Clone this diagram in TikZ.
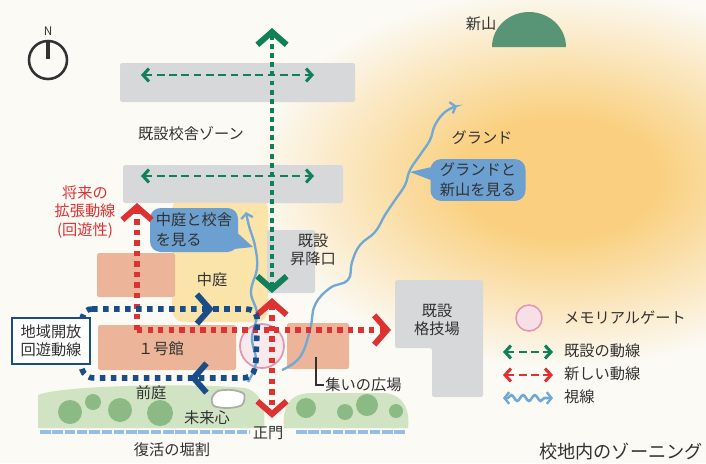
\documentclass[tikz,border=0pt]{standalone}
\usepackage{fontspec}
\setmainfont{Noto Sans CJK JP}
\usetikzlibrary{arrows.meta,decorations.markings,decorations.pathmorphing}

\definecolor{paper}{RGB}{251,250,245}
\definecolor{ink}{RGB}{50,50,50}
\definecolor{bldgray}{RGB}{214,216,217}
\definecolor{bldorange}{RGB}{236,180,152}
\definecolor{flowgreen}{RGB}{16,128,88}
\definecolor{flowred}{RGB}{222,50,50}
\definecolor{flowblue}{RGB}{26,76,136}
\definecolor{sightblue}{RGB}{112,168,214}
\definecolor{bubble}{RGB}{108,160,208}
\definecolor{glow}{RGB}{250,208,128}
\definecolor{courtyard}{RGB}{250,228,170}
\definecolor{hill}{RGB}{88,148,118}
\definecolor{lawn}{RGB}{208,228,196}
\definecolor{tree}{RGB}{140,186,132}
\definecolor{gatepink}{RGB}{226,150,175}
\definecolor{moat}{RGB}{150,190,228}

% glow of the ground
\pgfdeclareradialshading{groundglow}{\pgfpoint{0bp}{0bp}}{%
  color(0bp)=(glow); color(8bp)=(glow); color(25bp)=(paper); color(50bp)=(paper)}

\tikzset{
  building/.style={fill=bldgray, rounded corners=2pt},
  hall/.style={fill=bldorange, rounded corners=2pt},
  oldflow/.style={flowgreen, line width=4.2pt, dash pattern=on 4.2pt off 3.6pt},
  oldlane/.style={flowgreen, line width=2.4pt, dash pattern=on 6.5pt off 4pt},
  newflow/.style={flowred, line width=4.6pt, dash pattern=on 4.6pt off 4.4pt},
  newlane/.style={flowred, line width=2.4pt, dash pattern=on 6.5pt off 4pt},
  openloop/.style={flowblue, line width=4.8pt, dash pattern=on 4.8pt off 4.6pt},
  sight/.style={sightblue, line width=2pt},
  bubblebox/.style={fill=bubble, rounded corners=9pt, text=ink,
    font=\fontsize{13}{17}\selectfont},
  bigchev/.tip={Straight Barb[sharp, length=11pt, width=25pt, line width=5pt]},
  smallchev/.tip={Straight Barb[sharp, length=5pt, width=11pt, line width=2.6pt]},
  sightchev/.tip={Straight Barb[length=4pt, width=10pt, line width=2pt]},
}

\begin{document}
\begin{tikzpicture}[x=0.03cm, y=-0.03cm, text=ink,
    font=\fontsize{13}{16}\selectfont]
  \useasboundingbox[fill=paper] (0,0) rectangle (706,463);

  % ground
  \shade[shading=groundglow] (560,178) ellipse (310 and 190);
  % courtyard
  \fill[courtyard, rounded corners=10pt] (172,198) rectangle (268,322);

  % existing buildings
  \fill[building] (120,63) rectangle (355,102);
  \fill[building] (123,165) rectangle (343,203);
  \fill[building] (267,230) rectangle (315,293);
  \fill[building] (395,280) -- (483,280) -- (483,397) -- (432,397)
    -- (432,348) -- (395,348) -- cycle;

  % new buildings
  \fill[hall] (97,253) rectangle (175,297);
  \fill[hall] (98,325) rectangle (236,370);
  \fill[hall] (287,323) rectangle (349,369);

  % lawns and trees
  \fill[lawn] (38,428) -- (38,395) .. controls (60,385) and (200,383) .. (245,388)
    .. controls (262,392) and (266,410) .. (264,428) -- cycle;
  \fill[lawn] (284,428) .. controls (282,405) and (290,394) .. (310,393)
    -- (385,393) .. controls (405,395) and (410,412) .. (408,428) -- cycle;
  \foreach \x/\y/\r in {70/412/12, 93/402/8, 120/410/12, 160/413/13,
      306/408/10, 345/412/8, 367/405/11, 396/411/7}
    \fill[tree] (\x,\y) circle (\r);

  % pond
  \draw[gray!65, line width=1.5pt, fill=white] plot[smooth cycle] coordinates
    {(212,398) (218,391) (232,390) (244,394) (242,405) (228,408) (214,406)};

  % moat
  \draw[moat, line width=2.6pt, dash pattern=on 9pt off 1.5pt] (40,432) -- (250,432);
  \draw[moat, line width=2.6pt, dash pattern=on 9pt off 1.5pt] (296,432) -- (405,432);

  % memorial gate
  \draw[gatepink, line width=1.5pt, fill=gatepink!30, fill opacity=0.6] (262,346) circle (22);

  % hill
  \fill[hill] (492,47) arc[start angle=180, end angle=360, x radius=37, y radius=35] -- cycle;

  % north mark
  \draw[ink, line width=2.2pt] (48,60) circle (19);
  \draw[ink, line width=4.2pt] (48,41) -- (48,59);
  \node (north) at (48,31) {\fontsize{10}{12}\selectfont N};

  % sight lines
  \draw[sight, -{sightchev}] plot[smooth, tension=0.7] coordinates
    {(248,382) (256,362) (252,338) (257,314) (251,292) (257,268) (255,246) (249,226) (246,212)};
  \draw[sight, -{sightchev}] plot[smooth, tension=0.7] coordinates
    {(282,370) (300,357) (310,330) (315,305) (330,288) (348,280) (352,262)
     (360,245) (375,232) (385,215) (395,200) (405,185) (410,170) (420,155)
     (430,140) (435,125) (445,112) (457,106)};

  % bubbles
  \node[bubblebox, align=left, minimum width=2.64cm, minimum height=1.32cm]
    (seeCourt) at (194,230) {中庭と校舎\\を見る};
  \coordinate (seeCourtTip) at (253,247);
  \fill[bubble] (232,228) -- (seeCourtTip) -- (224,250) -- cycle;

  \node[bubblebox, align=center, minimum width=2.85cm, minimum height=1.2cm]
    (seeGround) at (478,180) {グランドと\\新山を見る};
  \coordinate (seeGroundTip) at (410,172);
  \fill[bubble] (436,166) -- (seeGroundTip) -- (436,182) -- cycle;

  % existing flows
  \coordinate (gTop) at (272,28);
  \coordinate (gBot) at (272,293);
  \draw[oldflow, {bigchev}-{bigchev}] (gTop) -- (gBot);
  \coordinate (lane1W) at (141,75);
  \coordinate (lane1E) at (314,75);
  \draw[oldlane, {smallchev}-{smallchev}] (lane1W) -- (lane1E);
  \coordinate (lane2W) at (141,176);
  \coordinate (lane2E) at (314,176);
  \draw[oldlane, {smallchev}-{smallchev}] (lane2W) -- (lane2E);

  % new flows
  \coordinate (rCorner) at (137,330);
  \coordinate (rNorth) at (137,203);
  \coordinate (rEast) at (391,330);
  \coordinate (rGateN) at (272,298);
  \coordinate (rGateS) at (272,418);
  \draw[newflow, -{bigchev}] (rCorner) -- (rNorth);
  \draw[newflow, -{bigchev}] (rCorner) -- (rEast);
  \draw[newflow, {bigchev}-{bigchev}] (rGateN) -- (rGateS);

  % open loop
  \draw[openloop, postaction={decorate, solid, decoration={markings,
      mark=at position 0.26 with {\arrow{bigchev}},
      mark=at position 0.62 with {\arrow{bigchev}}}}]
    (92,309) -- (245,309) .. controls (258,309) and (258,318) .. (257,330)
    -- (256,360) .. controls (255,376) and (250,378) .. (240,378)
    -- (95,378) .. controls (80,378) and (80,365) .. (80,345)
    .. controls (80,320) and (82,309) .. (92,309);
  \node[draw=flowblue, fill=white, line width=1.3pt, align=center,
    minimum width=2.34cm, minimum height=1.38cm, inner sep=2pt,
    font=\fontsize{13}{15}\selectfont] (openLoopBox) at (51,341) {地域開放\\回遊動線};

  % labels
  \node (schoolZone) at (191,134) {既設校舎ゾーン};
  \node[text=flowred, align=center] (futureLbl) at (85,212) {将来の\\拡張動線\\(回遊性)};
  \node (courtLbl) at (212,280) {中庭};
  \node[align=center, font=\fontsize{13}{15}\selectfont] (entranceLbl) at (313,250) {既設\\昇降口};
  \node (hallLbl) at (161,349) {１号館};
  \node (frontLbl) at (151,393) {前庭};
  \node (pondLbl) at (207,418) {未来心};
  \node (gateLbl) at (268,433) {正門};
  \node (moatLbl) at (172,450) {復活の堀割};
  \node[anchor=west, inner sep=1pt] (plazaLbl) at (324,385) {集いの広場};
  \draw[ink, line width=1pt] (316,357) |- (plazaLbl.west);
  \node[align=center, font=\fontsize{13}{15}\selectfont] (dojoLbl) at (437,320) {既設\\格技場};
  \node (groundLbl) at (482,138) {グランド};
  \node (hillLbl) at (481,24) {新山};

  % legend
  \node[circle, draw=gatepink, line width=1.3pt, fill=gatepink!30,
    minimum size=0.78cm] (legGate) at (529,318) {};
  \node[anchor=west] (legGateTxt) at (560,318) {メモリアルゲート};
  \coordinate (legG1) at (503,352);
  \coordinate (legG2) at (553,352);
  \draw[oldlane, {smallchev}-{smallchev}] (legG1) -- (legG2);
  \node[anchor=west] (legGTxt) at (560,351) {既設の動線};
  \coordinate (legR1) at (503,375);
  \coordinate (legR2) at (553,375);
  \draw[newlane, {smallchev}-{smallchev}] (legR1) -- (legR2);
  \node[anchor=west] (legRTxt) at (560,374) {新しい動線};
  \coordinate (legS1) at (503,398);
  \coordinate (legS2) at (553,398);
  \draw[sight, line width=2.2pt, {sightchev}-{sightchev}, decorate,
    decoration={snake, amplitude=2.5pt, segment length=10pt, pre length=4pt, post length=4pt}]
    (legS1) -- (legS2);
  \node[anchor=west] (legSTxt) at (560,397) {視線};

  % title
  \node[anchor=base west, inner sep=0pt, font=\fontsize{15.5}{18}\selectfont]
    (title) at (539,458) {校地内のゾーニング};
\end{tikzpicture}
\end{document}
